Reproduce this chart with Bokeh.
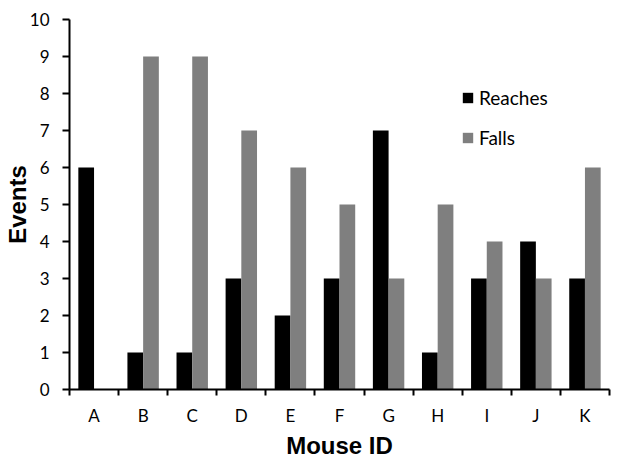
import numpy as np
from bokeh.plotting import figure
from bokeh.models import Range1d, FixedTicker, ColumnDataSource
from bokeh.transform import dodge
from bokeh.embed import file_html
from bokeh.resources import INLINE

mice = ["A", "B", "C", "D", "E", "F", "G", "H", "I", "J", "K"]
reaches = [6, 1, 1, 3, 2, 3, 7, 1, 3, 4, 3]
falls = [0, 9, 9, 7, 6, 5, 3, 5, 4, 3, 6]
y_ticks = list(range(0, 11))

pos = np.arange(len(mice)) + 0.5
src = ColumnDataSource(dict(x=pos, mouse=mice, reaches=reaches, falls=falls))

p = figure(width=631, height=465, output_backend="svg", toolbar_location=None,
           x_range=Range1d(0, len(mice)), y_range=Range1d(0, 10),
           min_border_left=67, min_border_right=22, min_border_top=19, min_border_bottom=76)

p.vbar(x=dodge("x", -0.16), top="reaches", width=0.32, source=src,
       fill_color="#000000", line_color=None, legend_label="Reaches")
p.vbar(x=dodge("x", 0.16), top="falls", width=0.32, source=src,
       fill_color="#7f7f7f", line_color=None, legend_label="Falls")

p.outline_line_color = None
p.grid.visible = False

# x axis: labels at centres, ticks at category boundaries
xa = p.xaxis[0]
xa.ticker = FixedTicker(ticks=list(pos), minor_ticks=list(range(len(mice) + 1)))
xa.major_label_overrides = {float(v): m for v, m in zip(pos, mice)}
xa.major_tick_line_color = None
xa.minor_tick_out = 6
xa.minor_tick_in = 0
xa.minor_tick_line_width = 2
xa.minor_tick_line_color = "black"
xa.axis_line_width = 2
xa.axis_line_color = "black"
xa.major_label_text_font = "Lato"
xa.major_label_text_font_size = "17px"
xa.major_label_text_color = "black"
xa.major_label_standoff = 9
xa.axis_label = "Mouse ID"
xa.axis_label_text_font = "Liberation Sans"
xa.axis_label_text_font_style = "bold"
xa.axis_label_text_font_size = "24px"
xa.axis_label_text_color = "black"
xa.axis_label_standoff = 3

ya = p.yaxis[0]
ya.ticker = FixedTicker(ticks=y_ticks)
ya.minor_tick_line_color = None
ya.major_tick_out = 7
ya.major_tick_in = 0
ya.major_tick_line_width = 2
ya.major_tick_line_color = "black"
ya.axis_line_width = 2
ya.axis_line_color = "black"
ya.major_label_text_font = "Lato"
ya.major_label_text_font_size = "17px"
ya.major_label_text_color = "black"
ya.major_label_standoff = 13
ya.axis_label = "Events"
ya.axis_label_text_font = "Liberation Sans"
ya.axis_label_text_font_style = "bold"
ya.axis_label_text_font_size = "24px"
ya.axis_label_text_color = "black"
ya.axis_label_standoff = -4

lg = p.legend[0]
lg.location = (392, 240)
lg.border_line_color = None
lg.background_fill_alpha = 0
lg.padding = 0
lg.margin = 0
lg.glyph_width = 13
lg.glyph_height = 13
lg.label_height = 20
lg.spacing = 17
lg.label_standoff = 5
lg.label_text_font = "Lato"
lg.label_text_font_size = "19px"
lg.label_text_color = "black"

open("out.html", "w").write(file_html(p, INLINE))
